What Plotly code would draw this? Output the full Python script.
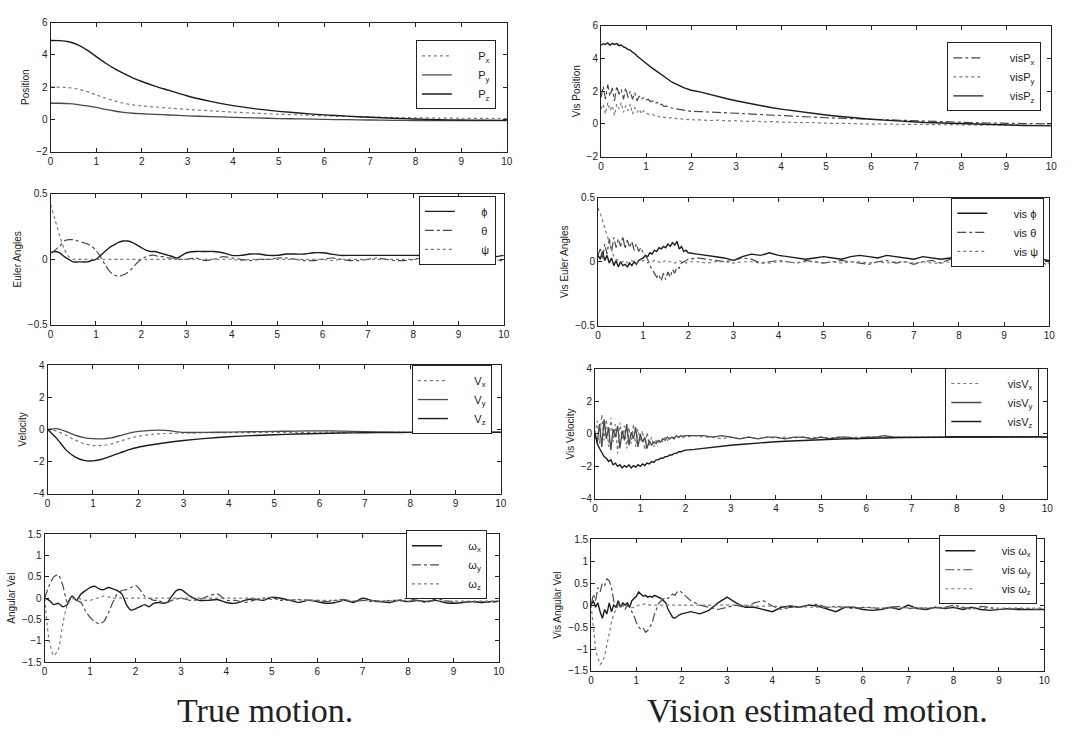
import plotly.graph_objects as go

# ---------------- time grids ----------------
t_smooth = [0, 0.2, 0.4, 0.6, 0.8, 1.0, 1.2, 1.4, 1.6, 1.8, 2.0, 2.3, 2.6, 3.0, 3.5,
            4.0, 4.5, 5.0, 5.5, 6.0, 6.5, 7.0, 7.5, 8.0, 8.5, 9.0, 9.5, 10.0]

t_wiggle = [0.0, 0.1, 0.2, 0.3, 0.4, 0.5, 0.6, 0.7, 0.8, 0.9,
            1.0, 1.1, 1.2, 1.3, 1.4, 1.5, 1.6, 1.7, 1.8, 1.9,
            2.0, 2.1, 2.2, 2.3, 2.4, 2.5, 2.6, 2.7, 2.8, 2.9,
            3.0,
            3.2, 3.4, 3.6, 3.8, 4.0, 4.2, 4.4, 4.6, 4.8, 5.0,
            5.2, 5.4, 5.6, 5.8, 6.0, 6.2, 6.4, 6.6, 6.8, 7.0,
            7.2, 7.4, 7.6, 7.8, 8.0, 8.2, 8.4, 8.6, 8.8, 9.0,
            9.2, 9.4, 9.6, 9.8, 10.0]

t_vis = [0.0, 0.05, 0.1, 0.15, 0.2, 0.25, 0.3, 0.35, 0.4, 0.45,
         0.5, 0.55, 0.6, 0.65, 0.7, 0.75, 0.8, 0.85, 0.9, 0.95,
         1.0, 1.05, 1.1, 1.15, 1.2, 1.25, 1.3, 1.35, 1.4, 1.45,
         1.5, 1.55, 1.6, 1.65, 1.7, 1.75, 1.8, 1.85, 1.9, 1.95,
         2.0,
         2.2, 2.4, 2.6, 2.8, 3.0, 3.2, 3.4, 3.6, 3.8, 4.0,
         4.2, 4.4, 4.6, 4.8, 5.0, 5.2, 5.4, 5.6, 5.8, 6.0,
         6.2, 6.4, 6.6, 6.8, 7.0, 7.2, 7.4, 7.6, 7.8, 8.0,
         8.2, 8.4, 8.6, 8.8, 9.0, 9.2, 9.4, 9.6, 9.8, 10.0]

# ---------------- True motion ----------------
pos_x = [2.00, 2.00, 1.97, 1.88, 1.72, 1.52, 1.32, 1.15, 1.00, 0.90,
         0.84, 0.77, 0.70, 0.62, 0.53, 0.45, 0.38, 0.32, 0.27, 0.22,
         0.18, 0.15, 0.12, 0.10, 0.08, 0.07, 0.06, 0.05]
pos_y = [1.00, 1.00, 0.98, 0.92, 0.84, 0.74, 0.62, 0.52, 0.44, 0.38,
         0.35, 0.31, 0.27, 0.22, 0.17, 0.13, 0.09, 0.05, 0.03, 0.00,
         -0.02, -0.04, -0.06, -0.07, -0.08, -0.08, -0.08, -0.08]
pos_z = [4.90, 4.89, 4.82, 4.62, 4.30, 3.90, 3.50, 3.15, 2.85, 2.58,
         2.35, 2.05, 1.80, 1.45, 1.12, 0.85, 0.65, 0.50, 0.38, 0.28,
         0.20, 0.13, 0.07, 0.02, -0.02, -0.04, -0.05, -0.06]

vel_x = [0.00, -0.10, -0.35, -0.65, -0.88, -1.00, -1.00, -0.90, -0.72, -0.55,
         -0.42, -0.30, -0.25, -0.22, -0.20, -0.20, -0.19, -0.18, -0.18, -0.17,
         -0.17, -0.17, -0.17, -0.17, -0.17, -0.17, -0.17, -0.17]
vel_y = [0.00, 0.05, -0.12, -0.35, -0.50, -0.57, -0.58, -0.52, -0.38, -0.22,
         -0.12, -0.05, -0.05, -0.18, -0.18, -0.16, -0.14, -0.12, -0.10, -0.08,
         -0.10, -0.14, -0.17, -0.18, -0.18, -0.18, -0.18, -0.18]
vel_z = [0.00, -0.55, -1.25, -1.70, -1.92, -1.95, -1.85, -1.65, -1.45, -1.25,
         -1.10, -0.95, -0.82, -0.68, -0.55, -0.45, -0.38, -0.33, -0.28, -0.25,
         -0.22, -0.20, -0.19, -0.18, -0.18, -0.17, -0.17, -0.17]

eul_phi = [0.05, 0.06, 0.05, 0.02, 0.00, -0.02, -0.02, -0.02, -0.02, -0.01,
           0.00, 0.03, 0.06, 0.09, 0.11, 0.13, 0.14, 0.14, 0.13, 0.11,
           0.09, 0.07, 0.06, 0.06, 0.05, 0.04, 0.03, 0.02, 0.01, 0.03,
           0.05,
           0.06, 0.06, 0.06, 0.05, 0.03, 0.03, 0.04, 0.04, 0.03, 0.03,
           0.04, 0.04, 0.04, 0.05, 0.05, 0.04, 0.03, 0.03, 0.03, 0.03,
           0.03, 0.03, 0.03, 0.03, 0.03, 0.03, 0.04, 0.05, 0.04, 0.03,
           0.03, 0.03, 0.03, 0.02, 0.03]
eul_theta = [0.05, 0.07, 0.10, 0.14, 0.15, 0.15, 0.14, 0.13, 0.12, 0.10,
             0.07, 0.02, -0.04, -0.09, -0.12, -0.13, -0.12, -0.10, -0.07, -0.03,
             0.00, 0.02, 0.03, 0.03, 0.02, 0.02, 0.01, 0.01, 0.00, 0.00,
             0.00,
             0.01, -0.01, 0.00, 0.02, 0.01, 0.00, -0.01, 0.00, 0.00, 0.01,
             0.01, 0.00, -0.01, -0.01, 0.00, 0.01, 0.00, -0.01, -0.01, 0.00,
             0.01, 0.00, -0.01, -0.01, 0.00, 0.01, 0.00, -0.01, 0.00, -0.01,
             -0.01, -0.01, -0.01, -0.01, -0.01]
eul_psi = [0.42, 0.30, 0.18, 0.08, 0.02, 0.00, 0.00, 0.00, 0.00, 0.00,
           0.00, 0.00, 0.00, 0.00, 0.00, 0.00, 0.00, 0.00, 0.00, 0.00,
           0.00, 0.00, 0.00, 0.00, 0.00, 0.00, 0.00, 0.00, 0.00, 0.00,
           0.00,
           0.00, 0.00, 0.00, 0.00, 0.00, -0.01, 0.00, 0.00, 0.00, 0.00,
           0.00, 0.00, 0.00, 0.00, 0.00, -0.01, 0.00, 0.00, 0.00, 0.00,
           0.00, 0.00, 0.00, 0.00, 0.00, 0.00, -0.01, 0.00, 0.00, 0.00,
           0.00, 0.00, 0.00, -0.01, 0.00]

ang_x = [0.00, -0.05, -0.15, -0.12, -0.20, -0.15, 0.05, -0.05, 0.10, 0.18,
         0.25, 0.28, 0.22, 0.20, 0.25, 0.22, 0.18, 0.10, -0.15, -0.28,
         -0.25, -0.20, -0.15, -0.20, -0.12, -0.10, -0.12, -0.10, 0.05, 0.18,
         0.20,
         0.05, -0.05, -0.05, -0.03, -0.10, -0.12, -0.05, -0.02, -0.05, 0.02,
         0.00, -0.05, -0.10, -0.05, -0.08, -0.12, -0.10, -0.05, -0.10, 0.00,
         -0.05, -0.08, -0.10, -0.05, -0.08, -0.05, -0.08, -0.05, -0.10, -0.12,
         -0.10, -0.08, -0.10, -0.08, -0.07]
ang_y = [0.00, 0.30, 0.50, 0.55, 0.30, -0.10, 0.05, -0.05, -0.10, -0.30,
         -0.45, -0.55, -0.60, -0.55, -0.35, -0.10, 0.10, 0.18, 0.20, 0.25,
         0.30, 0.20, 0.05, 0.00, -0.05, -0.05, -0.10, -0.10, -0.05, -0.02,
         0.00,
         -0.05, -0.03, 0.05, 0.10, -0.05, -0.05, -0.10, -0.05, 0.00, 0.02,
         -0.05, -0.05, -0.03, -0.05, -0.05, -0.08, -0.05, -0.03, -0.08, -0.05,
         -0.08, -0.08, -0.05, -0.05, 0.00, -0.05, -0.10, -0.02, -0.05, -0.10,
         -0.10, -0.08, -0.08, -0.10, -0.08]
ang_z = [0.00, -1.00, -1.35, -1.20, -0.60, -0.15, -0.02, 0.00, -0.02, -0.05,
         -0.05, -0.02, 0.02, 0.05, 0.03, 0.00, 0.00, 0.00, 0.00, 0.00,
         0.00, 0.00, 0.00, 0.00, 0.00, 0.00, 0.00, 0.00, 0.00, 0.00,
         0.00,
         0.00, 0.00, 0.00, 0.00, 0.00, 0.00, 0.00, 0.00, -0.02, -0.03,
         -0.03, -0.04, -0.04, -0.05, -0.05, -0.05, -0.05, -0.05, -0.06, -0.06,
         -0.06, -0.06, -0.06, -0.06, -0.07, -0.07, -0.07, -0.07, -0.07, -0.07,
         -0.07, -0.07, -0.07, -0.07, -0.07]

# ---------------- Vision estimated motion ----------------
vpos_x = [1.6, 2.3, 1.5, 2.4, 1.7, 2.2, 1.4, 2.3, 1.8, 2.1,
          1.5, 2.2, 1.6, 2.0, 1.5, 1.9, 1.4, 1.7, 1.5, 1.6,
          1.45, 1.50, 1.35, 1.40, 1.25, 1.30, 1.15, 1.20, 1.05, 1.10,
          1.00, 0.98, 0.95, 0.92, 0.88, 0.86, 0.84, 0.82, 0.80, 0.78,
          0.76,
          0.75, 0.72, 0.70, 0.66, 0.64, 0.60, 0.58, 0.55, 0.52, 0.50,
          0.47, 0.44, 0.42, 0.40, 0.37, 0.35, 0.33, 0.30, 0.28, 0.26,
          0.24, 0.22, 0.20, 0.18, 0.16, 0.15, 0.14, 0.12, 0.10, 0.09,
          0.08, 0.06, 0.05, 0.04, 0.03, 0.02, 0.01, 0.00, 0.00, -0.01]
vpos_y = [0.9, 1.2, 0.6, 1.3, 0.8, 1.1, 0.5, 1.2, 0.9, 1.3,
          0.7, 1.1, 0.8, 1.2, 0.6, 1.0, 0.7, 0.9, 0.6, 0.8,
          0.65, 0.60, 0.55, 0.58, 0.48, 0.50, 0.42, 0.45, 0.38, 0.40,
          0.35, 0.38, 0.32, 0.35, 0.30, 0.33, 0.28, 0.30, 0.26, 0.28,
          0.25,
          0.24, 0.20, 0.22, 0.18, 0.19, 0.15, 0.16, 0.12, 0.13, 0.10,
          0.10, 0.07, 0.08, 0.05, 0.05, 0.02, 0.03, 0.00, 0.01, -0.02,
          -0.01, -0.03, -0.02, -0.04, -0.03, -0.05, -0.04, -0.06, -0.05, -0.07,
          -0.06, -0.08, -0.07, -0.08, -0.08, -0.09, -0.08, -0.10, -0.09, -0.10]
vpos_z = [4.80, 4.90, 4.85, 4.95, 4.80, 4.92, 4.85, 4.90, 4.78, 4.82,
          4.70, 4.65, 4.55, 4.50, 4.38, 4.30, 4.15, 4.05, 3.95, 3.82,
          3.70, 3.60, 3.48, 3.38, 3.25, 3.15, 3.05, 2.95, 2.85, 2.76,
          2.68, 2.60, 2.52, 2.45, 2.38, 2.32, 2.26, 2.20, 2.15, 2.10,
          2.05,
          1.95, 1.80, 1.66, 1.53, 1.41, 1.30, 1.18, 1.08, 0.98, 0.90,
          0.82, 0.74, 0.67, 0.60, 0.54, 0.48, 0.42, 0.37, 0.32, 0.28,
          0.24, 0.20, 0.17, 0.14, 0.11, 0.08, 0.06, 0.04, 0.02, 0.00,
          -0.02, -0.03, -0.05, -0.06, -0.08, -0.09, -0.10, -0.11, -0.12, -0.13]

veul_phi = [0.05, 0.02, 0.08, 0.01, 0.05, -0.01, 0.03, -0.03, 0.01, -0.04,
            0.00, -0.03, -0.02, -0.04, -0.01, -0.03, 0.00, -0.02, 0.01, 0.02,
            0.03, 0.05, 0.04, 0.07, 0.06, 0.09, 0.08, 0.11, 0.10, 0.12,
            0.11, 0.14, 0.12, 0.15, 0.13, 0.16, 0.10, 0.12, 0.08, 0.09,
            0.07,
            0.06, 0.05, 0.04, 0.03, 0.01, 0.04, 0.06, 0.05, 0.07, 0.05,
            0.04, 0.03, 0.02, 0.03, 0.04, 0.03, 0.02, 0.04, 0.05, 0.04,
            0.03, 0.05, 0.04, 0.03, 0.02, 0.04, 0.03, 0.02, 0.03, 0.04,
            0.03, 0.02, 0.04, 0.05, 0.04, 0.03, 0.02, 0.03, 0.02, 0.01]
veul_theta = [0.05, 0.10, 0.02, 0.14, 0.06, 0.18, 0.08, 0.19, 0.11, 0.18,
              0.12, 0.20, 0.10, 0.17, 0.11, 0.16, 0.09, 0.14, 0.08, 0.11,
              0.07, 0.04, 0.02, -0.03, -0.06, -0.08, -0.12, -0.10, -0.15, -0.09,
              -0.14, -0.08, -0.12, -0.06, -0.09, -0.04, -0.05, -0.01, 0.00, 0.01,
              0.02,
              0.03, 0.02, 0.01, 0.00, 0.01, 0.03, 0.02, -0.01, 0.00, 0.01,
              0.00, -0.01, 0.01, 0.00, -0.01, 0.00, 0.01, 0.00, -0.01, -0.02,
              0.00, 0.01, -0.01, 0.00, -0.02, 0.00, 0.01, -0.01, 0.02, 0.01,
              -0.01, 0.00, -0.02, 0.01, -0.01, 0.00, -0.02, -0.01, -0.01, -0.02]
veul_psi = [0.42, 0.38, 0.32, 0.26, 0.20, 0.14, 0.08, 0.04, 0.02, 0.01,
            0.00, 0.00, 0.01, -0.01, 0.00, 0.01, 0.00, -0.01, 0.00, 0.00,
            0.01, 0.00, -0.01, 0.00, 0.00, 0.01, 0.00, 0.00, -0.01, 0.00,
            0.01, 0.00, 0.00, 0.00, -0.01, 0.00, 0.01, 0.00, 0.00, -0.01,
            0.00,
            0.00, -0.01, 0.00, 0.00, -0.01, 0.00, 0.00, -0.01, -0.01, 0.00,
            0.00, -0.01, 0.00, 0.00, -0.01, 0.00, -0.01, 0.00, 0.00, -0.01,
            0.00, -0.01, 0.00, 0.00, -0.01, 0.00, -0.01, -0.01, 0.00, -0.01,
            0.00, -0.01, 0.00, -0.01, -0.01, 0.00, -0.01, 0.00, -0.01, -0.01]

vvel_x = [0.0, 0.8, -0.6, 1.2, -0.4, 0.9, -0.8, 1.0, -0.5, 0.6,
          -1.2, 0.7, -0.3, 0.5, -0.9, 0.4, -0.6, 0.6, -0.8, 0.3,
          -0.5, 0.2, -1.0, 0.1, -0.7, -0.2, -0.8, -0.4, -0.6, -0.3,
          -0.5, -0.2, -0.4, -0.3, -0.3, -0.2, -0.3, -0.2, -0.2, -0.1,
          -0.2,
          -0.1, -0.2, -0.2, -0.3, -0.2, -0.3, -0.2, -0.3, -0.2, -0.25,
          -0.2, -0.25, -0.2, -0.25, -0.2, -0.25, -0.2, -0.25, -0.2, -0.2,
          -0.2, -0.2, -0.2, -0.2, -0.2, -0.2, -0.2, -0.2, -0.2, -0.2,
          -0.2, -0.2, -0.2, -0.2, -0.2, -0.2, -0.2, -0.2, -0.2, -0.2]
vvel_y = [0.0, -0.5, 0.6, -0.8, 0.9, -0.3, 0.4, -1.0, 0.3, -0.2,
          0.5, -0.9, 0.2, -0.4, 0.6, -0.7, 0.1, -0.3, 0.4, -0.8,
          0.0, -0.5, -0.2, -0.9, -0.4, -0.7, -0.5, -0.6, -0.4, -0.5,
          -0.3, -0.4, -0.2, -0.3, -0.2, -0.3, -0.1, -0.2, -0.1, -0.2,
          -0.1,
          -0.1, -0.1, -0.2, -0.1, -0.2, -0.3, -0.2, -0.3, -0.2, -0.2,
          -0.3, -0.2, -0.2, -0.3, -0.2, -0.3, -0.2, -0.2, -0.3, -0.2,
          -0.2, -0.1, -0.2, -0.2, -0.2, -0.2, -0.2, -0.2, -0.2, -0.2,
          -0.2, -0.2, -0.2, -0.2, -0.2, -0.2, -0.2, -0.2, -0.2, -0.2]
vvel_z = [0.0, -0.6, -0.9, -1.2, -1.4, -1.5, -1.7, -1.6, -1.9, -1.8,
          -2.0, -1.9, -2.1, -1.95, -2.05, -1.9, -2.1, -1.95, -2.05, -1.9,
          -2.0, -1.85, -1.95, -1.8, -1.85, -1.7, -1.75, -1.6, -1.6, -1.5,
          -1.5, -1.4, -1.4, -1.3, -1.3, -1.2, -1.2, -1.1, -1.1, -1.05,
          -1.0,
          -0.95, -0.88, -0.82, -0.76, -0.70, -0.65, -0.60, -0.56, -0.52, -0.48,
          -0.45, -0.42, -0.40, -0.37, -0.35, -0.33, -0.31, -0.30, -0.28, -0.27,
          -0.26, -0.25, -0.24, -0.23, -0.22, -0.22, -0.21, -0.21, -0.20, -0.20,
          -0.20, -0.19, -0.19, -0.19, -0.19, -0.18, -0.18, -0.18, -0.18, -0.18]

vang_x = [0.0, 0.10, -0.05, 0.05, -0.15, -0.30, -0.10, -0.20, 0.05, -0.15,
          0.0, -0.05, 0.10, -0.05, 0.05, 0.0, 0.05, -0.05, 0.10, 0.15,
          0.20, 0.30, 0.25, 0.20, 0.22, 0.18, 0.20, 0.18, 0.22, 0.20,
          0.18, 0.15, 0.10, 0.05, -0.10, -0.20, -0.28, -0.30, -0.25, -0.22,
          -0.20,
          -0.15, -0.20, -0.12, 0.05, 0.18, 0.05, -0.05, -0.05, -0.10, -0.15,
          -0.05, -0.02, -0.05, 0.00, -0.02, -0.08, -0.15, -0.05, -0.05, -0.10,
          -0.12, -0.10, -0.05, -0.10, 0.00, -0.08, -0.10, -0.05, -0.08, -0.05,
          -0.10, -0.05, -0.10, -0.12, -0.10, -0.08, -0.10, -0.10, -0.10, -0.10]
vang_y = [0.0, 0.25, 0.10, 0.40, 0.30, 0.50, 0.45, 0.60, 0.55, 0.40,
          0.10, -0.10, 0.05, -0.05, 0.0, -0.10, 0.0, -0.05, -0.15, -0.25,
          -0.40, -0.50, -0.55, -0.52, -0.62, -0.58, -0.50, -0.40, -0.20, -0.05,
          0.05, 0.10, 0.15, 0.18, 0.15, 0.20, 0.25, 0.22, 0.30, 0.33,
          0.28,
          0.10, 0.00, -0.05, -0.10, -0.05, 0.00, -0.05, 0.05, 0.10, -0.02,
          -0.10, -0.05, -0.05, 0.00, 0.02, -0.05, -0.03, -0.05, -0.08, -0.05,
          -0.05, -0.10, -0.05, -0.03, -0.08, -0.05, -0.08, -0.05, -0.05, 0.00,
          -0.05, -0.10, -0.03, -0.05, -0.10, -0.10, -0.08, -0.08, -0.10, -0.08]
vang_z = [0.0, -0.6, -1.0, -1.2, -1.35, -1.3, -1.15, -0.9, -0.6, -0.4,
          -0.2, -0.1, 0.0, -0.05, 0.0, -0.02, -0.03, -0.05, -0.06, -0.05,
          -0.03, 0.0, 0.0, 0.02, 0.03, 0.02, 0.0, 0.0, 0.0, 0.0,
          0.0, 0.0, 0.0, 0.0, 0.0, 0.0, 0.0, 0.0, 0.0, 0.0,
          0.0,
          0.00, 0.00, 0.00, 0.00, 0.00, 0.00, 0.00, -0.02, -0.02, -0.03,
          -0.03, -0.04, -0.04, -0.05, -0.05, -0.05, -0.05, -0.06, -0.06, -0.06,
          -0.06, -0.06, -0.07, -0.07, -0.07, -0.07, -0.07, -0.07, -0.07, -0.07,
          -0.07, -0.07, -0.07, -0.07, -0.07, -0.07, -0.07, -0.07, -0.07, -0.07]

x_ticks = [0, 1, 2, 3, 4, 5, 6, 7, 8, 9, 10]

# ---------------- styles ----------------
DARK = "#1c1c1c"
MID = "#4a4a4a"
LIGHT = "#7a7a7a"
PAD = "\u00a0" * 7

S_SOLID_D = dict(color=DARK, width=1.4, dash="solid")
S_SOLID_M = dict(color=MID, width=1.3, dash="solid")
S_DOT = dict(color=LIGHT, width=1.2, dash="dot")
S_DASHDOT = dict(color=MID, width=1.2, dash="dashdot")

W, H = 1083, 737

panels = [
    dict(title="Position", px=(48, 508), py=(17, 148), yr=[-2, 6], yt=[-2, 0, 2, 4, 6],
         leg=(497, 35),
         traces=[(t_smooth, pos_x, "P<sub>x</sub>", S_DOT),
                 (t_smooth, pos_y, "P<sub>y</sub>", S_SOLID_M),
                 (t_smooth, pos_z, "P<sub>z</sub>", S_SOLID_D)], spline=True),
    dict(title="Vis Position", px=(603, 1057), py=(20, 153), yr=[-2, 6], yt=[-2, 0, 2, 4, 6],
         leg=(1047, 37),
         traces=[(t_vis, vpos_x, "visP<sub>x</sub>", S_DASHDOT),
                 (t_vis, vpos_y, "visP<sub>y</sub>", S_DOT),
                 (t_vis, vpos_z, "visP<sub>z</sub>", S_SOLID_D)], spline=False),
    dict(title="Euler Angles", px=(48, 505), py=(191, 324), yr=[-0.5, 0.5], yt=[-0.5, 0, 0.5],
         leg=(497, 193),
         traces=[(t_wiggle, eul_phi, "\u03d5", S_SOLID_D),
                 (t_wiggle, eul_theta, "\u03b8", S_DASHDOT),
                 (t_wiggle, eul_psi, "\u03c8", S_DOT)], spline=True),
    dict(title="Vis Euler Angles", px=(600, 1055), py=(195, 325), yr=[-0.5, 0.5], yt=[-0.5, 0, 0.5],
         leg=(1050, 195),
         traces=[(t_vis, veul_phi, "vis \u03d5", S_SOLID_D),
                 (t_vis, veul_theta, "vis \u03b8", S_DASHDOT),
                 (t_vis, veul_psi, "vis \u03c8", S_DOT)], spline=False),
    dict(title="Velocity", px=(45, 502), py=(365, 496), yr=[-4, 4], yt=[-4, -2, 0, 2, 4],
         leg=(493, 365),
         traces=[(t_smooth, vel_x, "V<sub>x</sub>", S_DOT),
                 (t_smooth, vel_y, "V<sub>y</sub>", S_SOLID_M),
                 (t_smooth, vel_z, "V<sub>z</sub>", S_SOLID_D)], spline=True),
    dict(title="Vis Velocity", px=(597, 1053), py=(369, 501), yr=[-4, 4], yt=[-4, -2, 0, 2, 4],
         leg=(1045, 368),
         traces=[(t_vis, vvel_x, "visV<sub>x</sub>", S_DOT),
                 (t_vis, vvel_y, "visV<sub>y</sub>", S_SOLID_M),
                 (t_vis, vvel_z, "visV<sub>z</sub>", S_SOLID_D)], spline=False),
    dict(title="Angular Vel", px=(42, 500), py=(537, 667), yr=[-1.5, 1.5],
         yt=[-1.5, -1, -0.5, 0, 0.5, 1, 1.5],
         leg=(488, 533),
         traces=[(t_wiggle, ang_x, "\u03c9<sub>x</sub>", S_SOLID_D),
                 (t_wiggle, ang_y, "\u03c9<sub>y</sub>", S_DASHDOT),
                 (t_wiggle, ang_z, "\u03c9<sub>z</sub>", S_DOT)], spline=True),
    dict(title="Vis Angular Vel", px=(593, 1050), py=(542, 676), yr=[-1.5, 1.5],
         yt=[-1.5, -1, -0.5, 0, 0.5, 1, 1.5],
         leg=(1043, 538),
         traces=[(t_vis, vang_x, "vis \u03c9<sub>x</sub>", S_SOLID_D),
                 (t_vis, vang_y, "vis \u03c9<sub>y</sub>", S_DASHDOT),
                 (t_vis, vang_z, "vis \u03c9<sub>z</sub>", S_DOT)], spline=False),
]

fig = go.Figure()
layout = dict(
    width=W, height=H, margin=dict(l=0, r=0, t=0, b=0),
    paper_bgcolor="white", plot_bgcolor="white", showlegend=True,
    font=dict(family="Liberation Sans, Arial, sans-serif", color="#222", size=10),
)

for i, p in enumerate(panels, start=1):
    suffix = "" if i == 1 else str(i)
    xa, ya = "x" + suffix, "y" + suffix
    leg = "legend" + suffix
    for (tt, yy, name, st) in p["traces"]:
        assert len(tt) == len(yy), (name, len(tt), len(yy))
        fig.add_trace(go.Scatter(
            x=tt, y=yy, mode="lines", name=PAD + name,
            line=dict(color=st["color"], width=st["width"], dash=st["dash"],
                      shape="spline" if p["spline"] else "linear", smoothing=0.6),
            xaxis=xa, yaxis=ya, legend=leg, hoverinfo="skip"))
    x0, x1 = p["px"]
    y0, y1 = p["py"]
    common = dict(showline=True, linecolor="#222", linewidth=1, mirror="ticks",
                  ticks="inside", ticklen=4, tickcolor="#222", showgrid=False,
                  zeroline=False, tickfont=dict(size=10, color="#222"))
    layout["xaxis" + suffix] = dict(domain=[x0 / W, x1 / W], anchor=ya, range=[0, 10],
                                    tickvals=x_ticks, **common)
    layout["yaxis" + suffix] = dict(domain=[1 - y1 / H, 1 - y0 / H], anchor=xa, range=p["yr"],
                                    tickvals=p["yt"],
                                    title=dict(text=p["title"], font=dict(size=10, color="#222"),
                                               standoff=4),
                                    **common)
    lx, ly = p["leg"]
    layout[leg] = dict(x=lx / W, y=1 - ly / H, xanchor="right", yanchor="top",
                       xref="paper", yref="paper",
                       bgcolor="white", bordercolor="#222", borderwidth=1,
                       font=dict(size=11, color="#222",
                                 family="Liberation Sans, Arial, sans-serif"),
                       tracegroupgap=0)

layout["annotations"] = [
    dict(text="True motion.", x=264 / W, y=1 - 716 / H, xref="paper", yref="paper",
         xanchor="center", yanchor="middle", showarrow=False,
         font=dict(family="Liberation Serif, Times New Roman, serif", size=34, color="#222")),
    dict(text="Vision estimated motion.", x=821 / W, y=1 - 716 / H, xref="paper", yref="paper",
         xanchor="center", yanchor="middle", showarrow=False,
         font=dict(family="Liberation Serif, Times New Roman, serif", size=34, color="#222")),
]

fig.update_layout(**layout)
fig.write_html("out.html")
